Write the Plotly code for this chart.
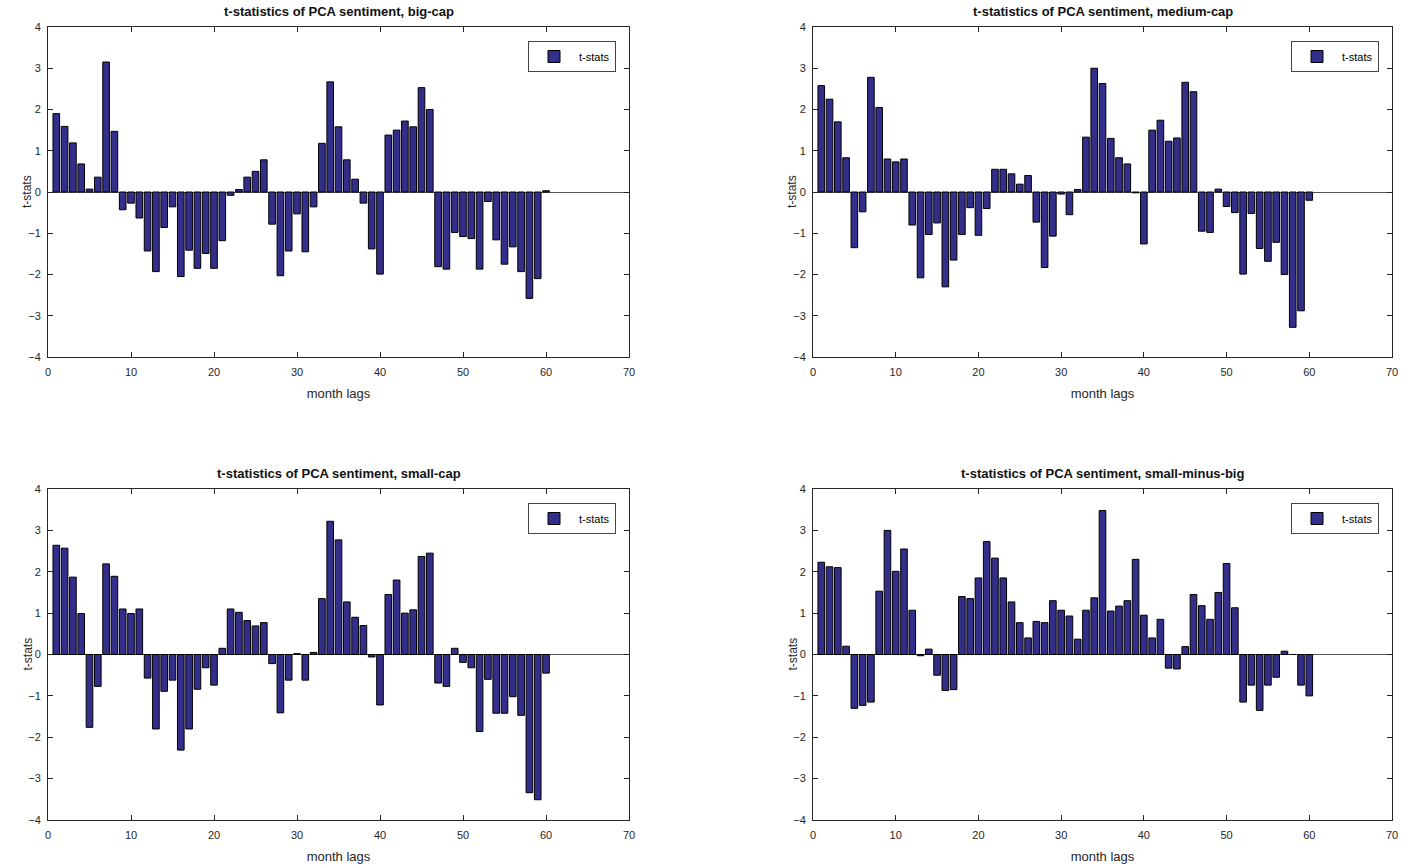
import plotly.graph_objects as go

lags = list(range(1, 61))

big_cap = [1.90, 1.59, 1.19, 0.68, 0.07, 0.36, 3.15, 1.47, -0.43, -0.27,
           -0.63, -1.43, -1.93, -0.86, -0.36, -2.05, -1.41, -1.85, -1.49, -1.85,
           -1.18, -0.08, 0.06, 0.36, 0.50, 0.78, -0.78, -2.03, -1.43, -0.53,
           -1.45, -0.36, 1.18, 2.67, 1.58, 0.78, 0.31, -0.27, -1.38, -1.99,
           1.38, 1.50, 1.72, 1.58, 2.53, 2.00, -1.81, -1.87, -0.98, -1.08,
           -1.13, -1.87, -0.23, -1.16, -1.75, -1.33, -1.93, -2.58, -2.10, 0.03]

medium_cap = [2.58, 2.25, 1.70, 0.83, -1.35, -0.48, 2.78, 2.05, 0.80, 0.73,
              0.80, -0.80, -2.08, -1.03, -0.75, -2.30, -1.65, -1.03, -0.38, -1.05,
              -0.40, 0.55, 0.55, 0.44, 0.19, 0.40, -0.73, -1.83, -1.07, -0.05,
              -0.55, 0.06, 1.33, 3.00, 2.63, 1.30, 0.83, 0.68, -0.02, -1.26,
              1.50, 1.74, 1.23, 1.31, 2.66, 2.43, -0.95, -0.98, 0.07, -0.35,
              -0.50, -1.99, -0.52, -1.37, -1.68, -1.22, -2.00, -3.28, -2.88, -0.20]

small_cap = [2.64, 2.57, 1.87, 0.99, -1.76, -0.77, 2.19, 1.89, 1.10, 0.99,
             1.10, -0.57, -1.80, -0.89, -0.62, -2.31, -1.80, -0.84, -0.32, -0.74,
             0.15, 1.10, 1.02, 0.82, 0.69, 0.77, -0.22, -1.41, -0.62, 0.02,
             -0.62, 0.05, 1.35, 3.22, 2.77, 1.27, 0.90, 0.70, -0.06, -1.22,
             1.45, 1.80, 1.00, 1.08, 2.37, 2.45, -0.69, -0.77, 0.15, -0.19,
             -0.32, -1.86, -0.60, -1.42, -1.42, -1.02, -1.47, -3.34, -3.51, -0.45]

small_minus_big = [2.23, 2.12, 2.10, 0.20, -1.30, -1.23, -1.15, 1.53, 3.00, 2.01,
                   2.55, 1.07, -0.03, 0.13, -0.50, -0.87, -0.85, 1.40, 1.35, 1.85,
                   2.73, 2.33, 1.85, 1.27, 0.77, 0.40, 0.80, 0.77, 1.30, 1.07,
                   0.93, 0.37, 1.07, 1.37, 3.48, 1.05, 1.17, 1.30, 2.30, 0.95,
                   0.40, 0.85, -0.33, -0.35, 0.19, 1.45, 1.18, 0.85, 1.50, 2.20,
                   1.13, -1.15, -0.74, -1.35, -0.74, -0.55, 0.08, 0.0, -0.74, -1.00]

titles = ["t-statistics of PCA sentiment, big-cap",
          "t-statistics of PCA sentiment, medium-cap",
          "t-statistics of PCA sentiment, small-cap",
          "t-statistics of PCA sentiment, small-minus-big"]
series = [big_cap, medium_cap, small_cap, small_minus_big]

x_ticks = [0, 10, 20, 30, 40, 50, 60, 70]
y_ticks = [-4, -3, -2, -1, 0, 1, 2, 3, 4]

W, H = 1407, 867
# plot areas in pixels: (left, right, top, bottom)
areas = [(48, 629, 27, 357), (813, 1392, 27, 357),
         (48, 629, 489, 820), (813, 1392, 489, 820)]

BAR = "#332e8a"
AXC = "#262626"
FONT = "Liberation Sans, Arial, Helvetica, sans-serif"

fig = go.Figure()
layout = dict(
    width=W, height=H, margin=dict(l=0, r=0, t=0, b=0, autoexpand=False),
    paper_bgcolor="white", plot_bgcolor="white",
    font=dict(family=FONT, size=11, color=AXC),
    barmode="overlay", showlegend=True, annotations=[],
)

for i, (vals, title, (l, r, t, b)) in enumerate(zip(series, titles, areas)):
    sfx = "" if i == 0 else str(i + 1)
    leg = "legend" if i == 0 else f"legend{i + 1}"
    fig.add_trace(go.Bar(
        x=lags, y=vals, width=0.8, name="t-stats",
        marker=dict(color=BAR, line=dict(color="black", width=1)),
        xaxis="x" + sfx, yaxis="y" + sfx, legend=leg,
    ))
    xd = [l / W, r / W]
    yd = [1 - b / H, 1 - t / H]
    layout["xaxis" + sfx] = dict(
        domain=xd, range=[0, 70], tickvals=x_ticks, anchor="y" + sfx,
        showline=True, linecolor=AXC, linewidth=1, mirror="ticks",
        ticks="inside", ticklen=5, tickcolor=AXC, showgrid=False, zeroline=False,
        tickfont=dict(size=11, color=AXC), ticklabelstandoff=5, automargin=False,
        title=dict(text="month lags", font=dict(size=13, color=AXC), standoff=11),
    )
    layout["yaxis" + sfx] = dict(
        domain=yd, range=[-4, 4], tickvals=y_ticks, anchor="x" + sfx,
        showline=True, linecolor=AXC, linewidth=1, mirror="ticks",
        ticks="inside", ticklen=5, tickcolor=AXC, showgrid=False,
        zeroline=True, zerolinecolor="#555555", zerolinewidth=1,
        tickfont=dict(size=11, color=AXC), ticklabelstandoff=4, automargin=False,
    )
    layout[leg] = dict(
        x=(r - 13) / W, y=1 - (t + 14) / H, xanchor="right", yanchor="top",
        bgcolor="white", bordercolor="#444444", borderwidth=1,
        font=dict(size=11, color="black"), itemwidth=40,
        tracegroupgap=0,
    )
    layout["annotations"].append(dict(
        text="<b>" + title + "</b>", x=(l + r) / 2 / W, y=1 - (t - 16) / H,
        xref="paper", yref="paper", xanchor="center", yanchor="middle",
        showarrow=False, font=dict(size=13, color="#111111", family=FONT),
    ))
    # y-axis title
    layout["annotations"].append(dict(
        text="t-stats", x=(l - 21) / W, y=1 - ((t + b) / 2) / H,
        xref="paper", yref="paper", xanchor="center", yanchor="middle",
        textangle=-90, showarrow=False,
        font=dict(size=12, color=AXC, family=FONT),
    ))

fig.update_layout(**layout)
fig.write_html("out.html")
